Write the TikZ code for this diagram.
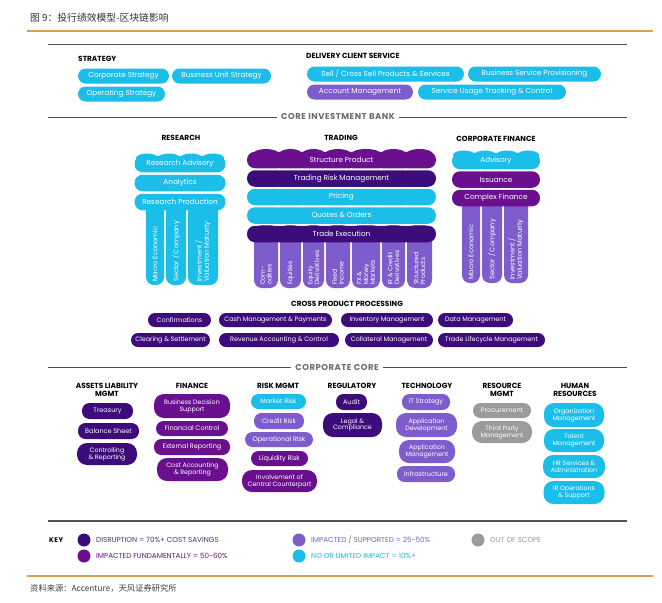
\documentclass[tikz,border=0pt]{standalone}
\usepackage{fontspec}
\setmainfont{Poppins}
\newfontfamily\cjk{Noto Sans CJK SC}
\definecolor{dk}{RGB}{60,12,122}
\definecolor{pu}{RGB}{106,16,142}
\definecolor{mp}{RGB}{126,92,204}
\definecolor{cy}{RGB}{26,190,233}
\definecolor{gr}{RGB}{155,155,155}
\definecolor{org}{RGB}{222,158,88}
\definecolor{rulec}{RGB}{80,80,80}
\definecolor{keydk}{RGB}{75,50,125}
\tikzset{
 pill/.style={rounded corners=7.5pt, minimum height=15pt, inner sep=0.5pt, text=white, align=center, font=\fontsize{6.5}{7.2}\selectfont},
 cpp/.style={pill, fill=dk, minimum height=14pt, rounded corners=7pt, font=\fontsize{6.4}{7.2}\selectfont},
 pilltwo/.style={pill, rounded corners=10pt, font=\fontsize{6.3}{6.9}\selectfont},
 toppill/.style={pill, font=\fontsize{7.3}{8}\selectfont},
 hdr/.style={font=\bfseries\fontsize{7.4}{8}\selectfont, align=center, inner sep=0pt},
 sec/.style={font=\bfseries\fontsize{8.5}{9}\selectfont\addfontfeatures{LetterSpace=6}, text=black!58, inner sep=4pt},
 rule/.style={draw=rulec, line width=0.9pt},
 collab/.style={rotate=90, anchor=west, text=white, align=left, inner sep=0pt, font=\fontsize{6.2}{6.7}\selectfont},
 collabw/.style={collab, font=\fontsize{6.6}{7.1}\selectfont},
 stack/.style={pill, minimum height=16.5pt, rounded corners=8pt, font=\fontsize{7.3}{8}\selectfont},
 keydot/.style={circle, minimum size=13pt, inner sep=0pt},
 keytxt/.style={anchor=west, inner sep=0pt, font=\fontsize{7.2}{8}\selectfont},
}
\begin{document}
\begin{tikzpicture}[x=1pt,y=-1pt]
\useasboundingbox[fill=white] (0,0) rectangle (662,603);
% ---------- title ----------
\node[anchor=west, font=\cjk\fontsize{9.8}{11}\selectfont, text=black!80, inner sep=0pt] (title) at (30,18) {图 9：投行绩效模型-区块链影响};
\draw[org, line width=1.8pt] (27,31) -- (653,31);
\draw[rule] (48,44) -- (627,44);
% ---------- strategy ----------
\node[hdr, anchor=west] (hstrat) at (78,59) {STRATEGY};
\node[toppill, fill=cy, minimum width=91pt] (cs) at (123.5,76) {Corporate Strategy};
\node[toppill, fill=cy, minimum width=99pt] (bus) at (221.5,76) {Business Unit Strategy};
\node[toppill, fill=cy, minimum width=87pt] (ops) at (121.5,94) {Operating Strategy};
\node[hdr, anchor=west] (hdel) at (306,56) {DELIVERY CLIENT SERVICE};
\node[toppill, fill=cy, minimum width=157pt] (sell) at (385.5,74) {Sell / Cross Sell Products \& Services};
\node[toppill, fill=cy, minimum width=133pt] (bsp) at (534.5,74) {Business Service Provisioning};
\node[toppill, fill=mp, minimum width=106pt] (am) at (360,92) {Account Management};
\node[toppill, fill=cy, minimum width=148pt] (sut) at (492,92) {Service Usage Tracking \& Control};
% ---------- core investment bank ----------
\node[sec] (cib) at (338,117) {CORE INVESTMENT BANK};
\draw[rule] (48,117) -- (cib.west);
\draw[rule] (cib.east) -- (627,117);
\node[hdr] (hres) at (181,138) {RESEARCH};
\node[hdr] (htrd) at (341,138) {TRADING};
\node[hdr] (hcf) at (496,139) {CORPORATE FINANCE};
% research
\foreach \a/\b in {146/164,166/186,188/218} \fill[cy, rounded corners=8pt] (\a,195) rectangle (\b,285);
\foreach \c in {147,169,191,213} \fill[cy] (\c,158) ellipse[x radius=11pt, y radius=4.5pt];
\node[stack, fill=cy, minimum width=91pt] (ra) at (180,164) {Research Advisory};
\node[stack, fill=cy, minimum width=91pt] (an) at (180,183) {Analytics};
\node[stack, fill=cy, minimum width=91pt] (rp) at (180,202) {Research Production};
\foreach \x in {165,187} \foreach \y in {173.5,192.5} \fill[white] (\x,\y) circle[radius=1.1pt];
\node[collabw] (rme) at (155,282) {Macro Economic};
\node[collabw] (rsc) at (176,282) {Sector / Company};
\node[collabw] (riv) at (203,282) {Investment /\\Valuation Maturity};
% trading
\foreach \a/\b in {254/278,280/301,303/324,326/350,352/380,382/405,407/432} \fill[mp, rounded corners=8pt] (\a,225) rectangle (\b,288);
\foreach \c/\r in {266/13pt,290.5/11.5pt,313.5/11.5pt,338/13pt,366/15pt,393.5/12.5pt,419.5/13.5pt} \fill[pu] (\c,154) ellipse[x radius=\r, y radius=5pt];
\node[stack, fill=pu, minimum width=189pt] (sp) at (341.5,160) {Structure Product};
\node[stack, fill=dk, minimum width=189pt] (trm) at (341.5,178.5) {Trading Risk Management};
\node[stack, fill=cy, minimum width=189pt] (pr) at (341.5,197) {Pricing};
\node[stack, fill=cy, minimum width=189pt] (qo) at (341.5,215.5) {Quotes \& Orders};
\node[stack, fill=dk, minimum width=189pt] (te) at (341.5,234) {Trade Execution};
\foreach \x in {279,302,325,351,381,406} \foreach \y in {169.25,187.75,206.25,224.75} \fill[white] (\x,\y) circle[radius=1.1pt];
\node[collab] (tc1) at (266,285) {Com-\\odities};
\node[collab] (tc2) at (290.5,285) {Equities};
\node[collab] (tc3) at (313.5,285) {Equity\\Derivatives};
\node[collab] (tc4) at (338,285) {Fixed\\Income};
\node[collab] (tc5) at (366,285) {FX \&\\Money\\Markets};
\node[collab] (tc6) at (393.5,285) {IR \& Credit\\Derivatives};
\node[collab] (tc7) at (419.5,285) {Structured\\Products};
% corporate finance
\foreach \a/\b in {462/480,482/502,504/528} \fill[mp, rounded corners=8pt] (\a,195) rectangle (\b,283);
\foreach \c in {464,485,507,528} \fill[cy] (\c,155) ellipse[x radius=11pt, y radius=4.5pt];
\node[stack, fill=cy, minimum width=88pt] (adv) at (496,161) {Advisory};
\node[stack, fill=pu, minimum width=88pt] (iss) at (496,179.5) {Issuance};
\node[stack, fill=pu, minimum width=88pt] (cfin) at (496,198) {Complex Finance};
\foreach \x in {481,503} \foreach \y in {170.25,188.75} \fill[white] (\x,\y) circle[radius=1.1pt];
\node[collabw] (cme) at (471,280) {Macro Economic};
\node[collabw] (csc) at (492,280) {Sector / Company};
\node[collabw] (civ) at (516,280) {Investment /\\Valuation Maturity};
% ---------- cross product processing ----------
\node[hdr] (hcpp) at (347,304) {CROSS PRODUCT PROCESSING};
\node[cpp, minimum width=63pt] (conf) at (179.5,320) {Confirmations};
\node[cpp, minimum width=113pt] (cash) at (275.5,320) {Cash Management \& Payments};
\node[cpp, minimum width=92pt] (inv) at (387,320) {Inventory Management};
\node[cpp, minimum width=75pt] (data) at (475.5,320) {Data Management};
\node[cpp, minimum width=79pt] (clr) at (170.5,340) {Clearing \& Settlement};
\node[cpp, minimum width=120pt] (rev) at (279,340) {Revenue Accounting \& Control};
\node[cpp, minimum width=88pt] (coll) at (389,340) {Collateral Management};
\node[cpp, minimum width=107pt] (tlm) at (491.5,340) {Trade Lifecycle Management};
% ---------- corporate core ----------
\node[sec] (cc) at (337,367) {CORPORATE CORE};
\draw[rule] (48,367) -- (cc.west);
\draw[rule] (cc.east) -- (627,367);
\node[hdr] (halm) at (107,390) {ASSETS LIABILITY\\MGMT};
\node[hdr] (hfin) at (192,386) {FINANCE};
\node[hdr] (hrisk) at (278,386) {RISK MGMT};
\node[hdr] (hreg) at (352,386) {REGULATORY};
\node[hdr] (htech) at (427,386) {TECHNOLOGY};
\node[hdr] (hrm) at (502,390) {RESOURCE\\MGMT};
\node[hdr] (hhr) at (575,390) {HUMAN\\RESOURCES};
% assets liability
\node[pill, fill=dk, minimum width=51pt, minimum height=16pt] (treas) at (107.5,411) {Treasury};
\node[pill, fill=dk, minimum width=61pt, minimum height=16pt] (bal) at (108.5,431) {Balance Sheet};
\node[pilltwo, fill=dk, minimum width=60pt, minimum height=22pt] (ctrl) at (107,454) {Controlling\\\& Reporting};
% finance
\node[pilltwo, fill=pu, minimum width=76pt, minimum height=24pt] (bds) at (192,406) {Business Decision\\Support};
\node[pill, fill=pu, minimum width=72pt, minimum height=15pt] (fc) at (192,428.5) {Financial Control};
\node[pill, fill=pu, minimum width=76pt, minimum height=16pt] (er) at (192,447) {External Reporting};
\node[pilltwo, fill=pu, minimum width=71pt, minimum height=23pt] (ca) at (192.5,469.5) {Cost Accounting\\\& Reporting};
% risk
\node[pill, fill=cy, minimum width=55pt, minimum height=15pt] (mr) at (278.5,401.5) {Market Risk};
\node[pill, fill=mp, minimum width=50pt, minimum height=16pt] (cr) at (279,421) {Credit Risk};
\node[pill, fill=mp, minimum width=68pt, minimum height=15pt] (opr) at (279,439.5) {Operational Risk};
\node[pill, fill=pu, minimum width=57pt, minimum height=15pt] (lr) at (279.5,458.5) {Liquidity Risk};
\node[pilltwo, fill=pu, minimum width=75pt, minimum height=22pt] (icc) at (279.5,481) {Involvement of\\Central Counterpart};
% regulatory
\node[pill, fill=dk, minimum width=31pt, minimum height=16pt] (aud) at (351.5,402) {Audit};
\node[pilltwo, fill=dk, minimum width=59pt, minimum height=24pt] (leg) at (352.5,425) {Legal \&\\Compliance};
% technology
\node[pill, fill=mp, minimum width=48pt, minimum height=16pt] (its) at (426,402) {IT Strategy};
\node[pilltwo, fill=mp, minimum width=61pt, minimum height=24pt] (adev) at (426.5,425) {Application\\Development};
\node[pilltwo, fill=mp, minimum width=56pt, minimum height=23pt] (amg) at (427,451.5) {Application\\Management};
\node[pill, fill=mp, minimum width=58pt, minimum height=16pt] (inf) at (426,474) {Infrastructure};
% resource
\node[pill, fill=gr, minimum width=58pt, minimum height=15pt] (proc) at (502,410.5) {Procurement};
\node[pilltwo, fill=gr, minimum width=60pt, minimum height=22pt] (tpm) at (502,432) {Third Party\\Management};
% human resources
\node[pilltwo, fill=cy, minimum width=60pt, minimum height=24pt] (om) at (574,415) {Organization\\Management};
\node[pilltwo, fill=cy, minimum width=60pt, minimum height=23pt] (tm) at (574,440.5) {Talent\\Management};
\node[pilltwo, fill=cy, minimum width=62pt, minimum height=23pt] (hrs) at (574,466.5) {HR Services \&\\Administration};
\node[pilltwo, fill=cy, minimum width=61pt, minimum height=23pt] (iro) at (574,492.5) {IR Operations\\\& Support};
% ---------- key ----------
\draw[draw=rulec, line width=1.2pt] (48,521) -- (627,521);
\node[hdr, anchor=west, font=\bfseries\fontsize{6.8}{7.5}\selectfont\addfontfeatures{LetterSpace=8}] (key) at (49,540) {KEY};
\node[keydot, fill=dk] (k1) at (84,540) {};
\node[keytxt, text=keydk] (k1t) at (96,540) {DISRUPTION = 70\%+ COST SAVINGS};
\node[keydot, fill=pu] (k2) at (84,556) {};
\node[keytxt, text=pu] (k2t) at (96,556) {IMPACTED FUNDAMENTALLY = 50-60\%};
\node[keydot, fill=mp] (k3) at (299,540) {};
\node[keytxt, text=mp] (k3t) at (311,540) {IMPACTED / SUPPORTED = 25-50\%};
\node[keydot, fill=cy] (k4) at (299,556) {};
\node[keytxt, text=cy] (k4t) at (311,556) {NO OR LIMITED IMPACT = 10\%+};
\node[keydot, fill=gr] (k5) at (478,540) {};
\node[keytxt, text=gr] (k5t) at (490,540) {OUT OF SCOPE};
% ---------- footer ----------
\draw[org, line width=1.8pt] (27,576) -- (653,576);
\node[anchor=west, font=\cjk\fontsize{8.3}{9}\selectfont, text=black!75, inner sep=0pt] (src) at (30,588) {资料来源：Accenture，天风证券研究所};
\end{tikzpicture}
\end{document}
